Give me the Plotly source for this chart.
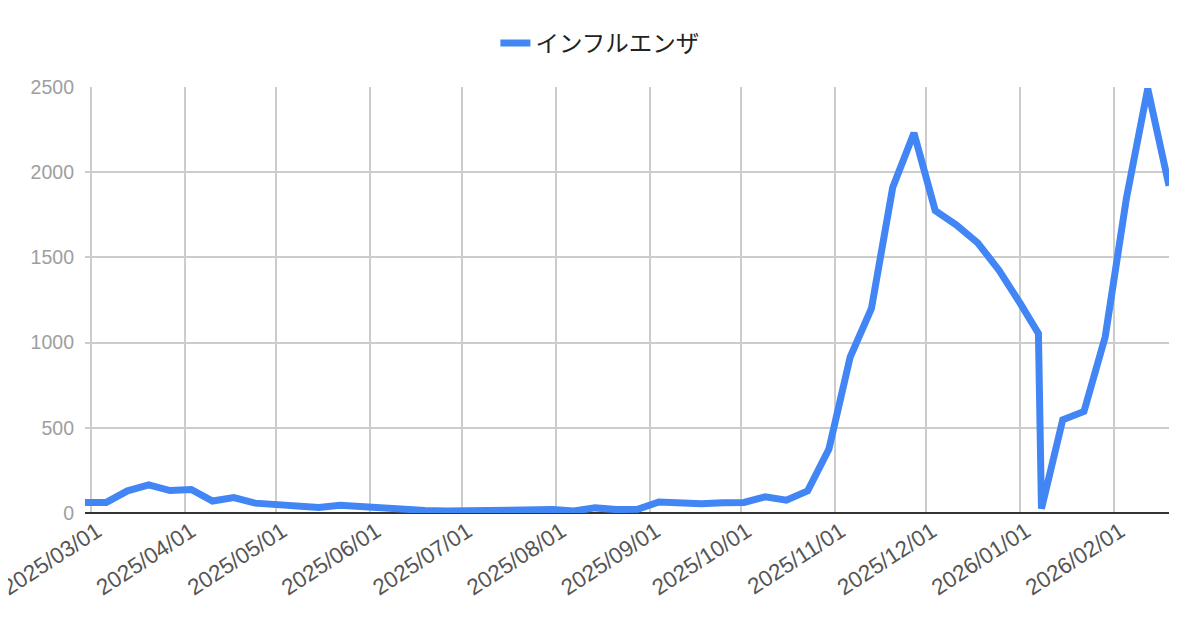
import plotly.graph_objects as go

# weekly reports (one extra report on 2026/01/07)
dates = [
    "2025-02-27", "2025-03-06", "2025-03-13", "2025-03-20", "2025-03-27",
    "2025-04-03", "2025-04-10", "2025-04-17", "2025-04-24", "2025-05-01",
    "2025-05-08", "2025-05-15", "2025-05-22", "2025-05-29", "2025-06-05",
    "2025-06-12", "2025-06-19", "2025-06-26", "2025-07-03", "2025-07-10",
    "2025-07-17", "2025-07-24", "2025-07-31", "2025-08-07", "2025-08-14",
    "2025-08-21", "2025-08-28", "2025-09-04", "2025-09-11", "2025-09-18",
    "2025-09-25", "2025-10-02", "2025-10-09", "2025-10-16", "2025-10-23",
    "2025-10-30", "2025-11-06", "2025-11-13", "2025-11-20", "2025-11-27",
    "2025-12-04", "2025-12-11", "2025-12-18", "2025-12-25", "2026-01-01",
    "2026-01-07", "2026-01-08", "2026-01-15", "2026-01-22", "2026-01-29",
    "2026-02-05", "2026-02-12", "2026-02-19",
]
influenza = [
    62, 62, 130, 165, 132,
    138, 70, 90, 58, 50,
    45, 33, 45, 37, 22,
    22, 15, 12, 15, 18,
    20, 18, 20, 12, 30,
    20, 22, 65, 55, 55,
    60, 62, 95, 75, 130,
    375, 915, 1200, 1910, 2230,
    1775, 1690, 1585, 1425, 1230,
    1054, 25, 547, 596, 1035,
    1850, 2490, 1920,
]

month_ticks = [
    "2025-03-01", "2025-04-01", "2025-05-01", "2025-06-01", "2025-07-01",
    "2025-08-01", "2025-09-01", "2025-10-01", "2025-11-01", "2025-12-01",
    "2026-01-01", "2026-02-01",
]
month_labels = [d.replace("-", "/") for d in month_ticks]
y_ticks = [0, 500, 1000, 1500, 2000, 2500]

fig = go.Figure()

fig.add_trace(go.Scatter(
    x=dates, y=influenza,
    mode="lines",
    name="インフルエンザ",
    line=dict(color="#4285f4", width=7),
))

# page body has an 8px margin, so margins are shifted back by 8px
fig.update_layout(
    width=1192, height=618,
    margin=dict(l=77, r=31, t=79, b=113),
    paper_bgcolor="white",
    plot_bgcolor="white",
    showlegend=True,
    legend=dict(
        orientation="h",
        x=0.475, xanchor="center",
        y=1.103, yanchor="middle",
        itemwidth=30,
        font=dict(family="Noto Sans CJK JP", size=23.5, color="#222222"),
    ),
)

fig.update_xaxes(
    range=["2025-02-27", "2026-02-19"],
    automargin=False,
    tickmode="array",
    tickvals=month_ticks,
    ticktext=month_labels,
    tickangle=-33,
    ticklabeloverflow="allow",
    ticklabelshift=6,
    tickfont=dict(family="Liberation Sans", size=22.5, color="#555555"),
    showgrid=True, gridcolor="#cccccc", gridwidth=1.6,
    zeroline=False,
    showline=False,
    ticks="",
)

fig.update_yaxes(
    range=[0, 2500],
    automargin=False,
    tickmode="array",
    tickvals=y_ticks,
    tickfont=dict(family="Liberation Sans", size=19.5, color="#9e9e9e"),
    showgrid=True, gridcolor="#cccccc", gridwidth=1.6,
    zeroline=True, zerolinecolor="#333333", zerolinewidth=2,
    ticks="",
    ticklabelstandoff=10,
)

fig.write_html("out.html")
